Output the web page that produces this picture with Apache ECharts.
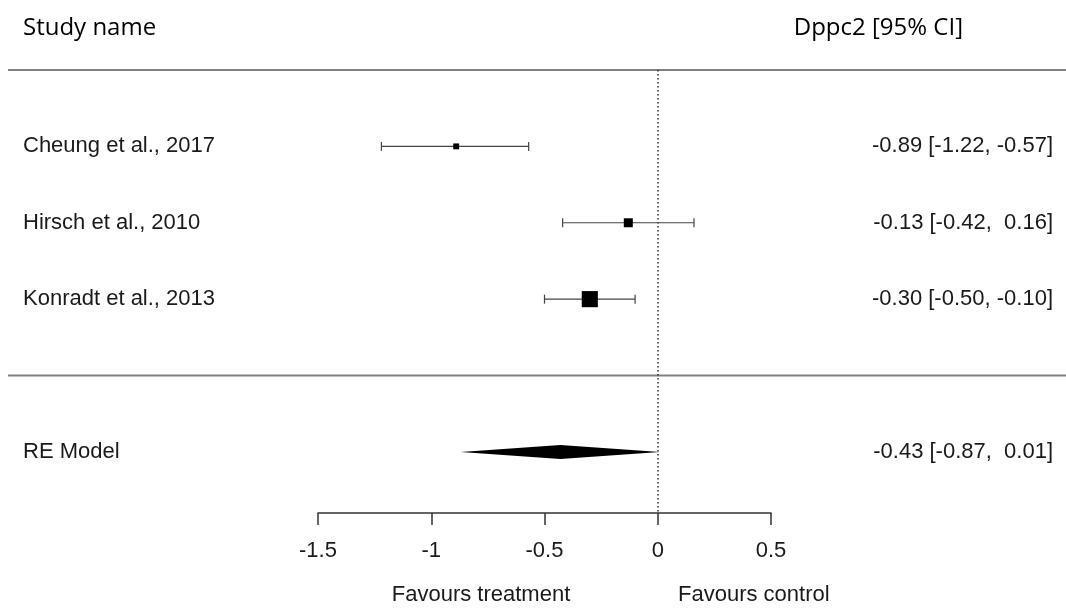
<!DOCTYPE html>
<html>
<head>
<meta charset="utf-8">
<script src="https://cdn.jsdelivr.net/npm/echarts@6/dist/echarts.min.js"></script>
<style>
  html, body { margin: 0; padding: 0; background: #fff; }
  #chart { width: 1066px; height: 608px; }
</style>
</head>
<body>
<div id="chart"></div>
<script>
const studies = ['Cheung et al., 2017', 'Hirsch et al., 2010', 'Konradt et al., 2013'];
const studyRows = [1, 2, 3];
const estimates = [-0.89, -0.13, -0.30];
const ciLower = [-1.22, -0.42, -0.50];
const ciUpper = [-0.57, 0.16, -0.10];
const weights = [19, 29, 52];

const modelLabel = 'RE Model';
const modelRow = 5;
const modelEstimate = -0.43;
const modelLower = -0.87;
const modelUpper = 0.01;

const separatorRows = [0, 4];
const xTicks = [-1.5, -1, -0.5, 0, 0.5];

const textFont = 'Liberation Sans, Arial, sans-serif';
const headFont = 'Open Sans, sans-serif';

function fmt(v) {
  return v < 0 ? v.toFixed(2) : ' ' + v.toFixed(2);
}
function ciText(est, lo, hi) {
  return fmt(est) + ' [' + fmt(lo) + ', ' + fmt(hi) + ']';
}

function rowText(label, y, align, x) {
  return {
    type: 'text',
    x: x,
    y: y,
    style: {
      text: label,
      fontFamily: textFont,
      fontSize: 22,
      fill: '#1a1a1a',
      align: align,
      verticalAlign: 'middle'
    }
  };
}

function renderStudy(params, api) {
  const row = api.value(0);
  const est = api.value(1);
  const lo = api.value(2);
  const hi = api.value(3);
  const size = api.value(4) * 0.31;
  const pLo = api.coord([lo, row]);
  const pHi = api.coord([hi, row]);
  const pEst = api.coord([est, row]);
  const lineStyle = { stroke: '#444', lineWidth: 1.2 };
  return {
    type: 'group',
    children: [
      { type: 'line', shape: { x1: pLo[0], y1: pLo[1], x2: pHi[0], y2: pHi[1] }, style: lineStyle },
      { type: 'line', shape: { x1: pLo[0], y1: pLo[1] - 4.5, x2: pLo[0], y2: pLo[1] + 4.5 }, style: lineStyle },
      { type: 'line', shape: { x1: pHi[0], y1: pHi[1] - 4.5, x2: pHi[0], y2: pHi[1] + 4.5 }, style: lineStyle },
      { type: 'rect', shape: { x: pEst[0] - size / 2, y: pEst[1] - size / 2, width: size, height: size }, style: { fill: '#000' } },
      rowText(studies[params.dataIndex], pEst[1], 'left', 23),
      rowText(ciText(est, lo, hi), pEst[1], 'right', 1053)
    ]
  };
}

function renderModel(params, api) {
  const row = api.value(0);
  const est = api.value(1);
  const lo = api.value(2);
  const hi = api.value(3);
  const pLo = api.coord([lo, row]);
  const pHi = api.coord([hi, row]);
  const pEst = api.coord([est, row]);
  return {
    type: 'group',
    children: [
      {
        type: 'polygon',
        shape: { points: [[pLo[0], pLo[1]], [pEst[0], pEst[1] - 7], [pHi[0], pHi[1]], [pEst[0], pEst[1] + 7]] },
        style: { fill: '#000' }
      },
      rowText(modelLabel, pEst[1], 'left', 23),
      rowText(ciText(est, lo, hi), pEst[1], 'right', 1053)
    ]
  };
}

function renderSeparator(params, api) {
  const y = api.coord([0, api.value(0)])[1];
  return {
    type: 'line',
    shape: { x1: 8, y1: y, x2: 1066, y2: y },
    style: { stroke: '#808080', lineWidth: 2 }
  };
}

const chart = echarts.init(document.getElementById('chart'));

chart.setOption({
  animation: false,
  grid: { left: 318, right: 295, top: 70, bottom: 95 },
  xAxis: {
    type: 'value',
    position: 'bottom',
    min: xTicks[0],
    max: xTicks[xTicks.length - 1],
    interval: xTicks[1] - xTicks[0],
    splitLine: { show: false },
    axisLine: { onZero: false, lineStyle: { color: '#333', width: 1.5 } },
    axisTick: { length: 12, lineStyle: { color: '#333', width: 1.5 } },
    axisLabel: { margin: 27, color: '#1a1a1a', fontFamily: textFont, fontSize: 22 }
  },
  yAxis: {
    type: 'value',
    min: 0,
    max: 5.8,
    inverse: true,
    show: false
  },
  graphic: [
    { type: 'text', x: 23, y: 28, style: { text: 'Study name', fontFamily: headFont, fontSize: 24, fill: '#000', verticalAlign: 'middle' } },
    { type: 'text', x: 963, y: 28, style: { text: 'Dppc2 [95% CI]', fontFamily: headFont, fontSize: 24, fill: '#000', align: 'right', verticalAlign: 'middle' } },
    { type: 'text', x: 481, y: 595, style: { text: 'Favours treatment', fontFamily: textFont, fontSize: 22, fill: '#1a1a1a', align: 'center', verticalAlign: 'middle' } },
    { type: 'text', x: 678, y: 595, style: { text: 'Favours control', fontFamily: textFont, fontSize: 22, fill: '#1a1a1a', align: 'left', verticalAlign: 'middle' } }
  ],
  series: [
    {
      type: 'line',
      data: [],
      markLine: {
        silent: true,
        symbol: 'none',
        label: { show: false },
        lineStyle: { color: '#333', type: [1.5, 2.5], width: 1.5 },
        data: [{ xAxis: 0 }]
      }
    },
    {
      type: 'custom',
      clip: false,
      renderItem: renderSeparator,
      encode: { y: 0 },
      data: separatorRows.map(r => [r])
    },
    {
      type: 'custom',
      clip: false,
      renderItem: renderStudy,
      encode: { y: 0, x: [1, 2, 3] },
      data: studies.map((s, i) => [studyRows[i], estimates[i], ciLower[i], ciUpper[i], weights[i]])
    },
    {
      type: 'custom',
      clip: false,
      renderItem: renderModel,
      encode: { y: 0, x: [1, 2, 3] },
      data: [[modelRow, modelEstimate, modelLower, modelUpper]]
    }
  ]
});
</script>
</body>
</html>
